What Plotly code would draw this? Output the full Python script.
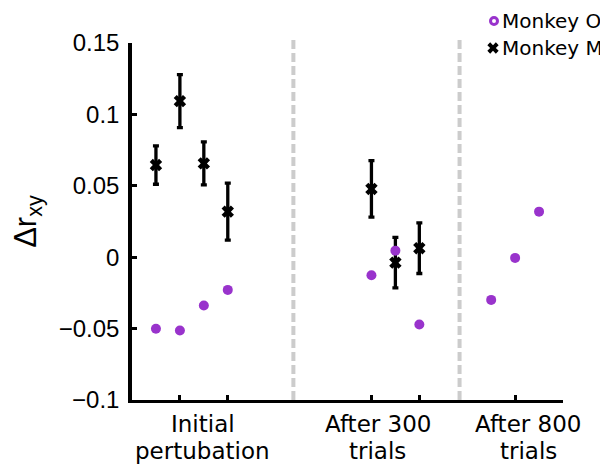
import plotly.graph_objects as go

# ---- data ----
x_monkey_o = [0, 1, 2, 3, 9, 10, 11, 14, 15, 16]
y_monkey_o = [-0.0501, -0.0513, -0.0338, -0.0229, -0.0126, 0.0046, -0.0471, -0.0299, -0.0005, 0.0319]

x_monkey_m = [0, 1, 2, 3, 9, 10, 11]
y_monkey_m = [0.0645, 0.1093, 0.0657, 0.0319, 0.0478, -0.0038, 0.0063]
err_monkey_m = [0.0134, 0.0185, 0.0150, 0.0200, 0.0198, 0.0177, 0.0177]

series_names = ["Monkey O", "Monkey M"]
group_labels = [["Initial", "pertubation"], ["After 300", "trials"], ["After 800", "trials"]]
group_label_x = [1.96, 9.27, 15.54]
x_tick_vals = [1, 3, 9, 11, 15]
y_tick_vals = [-0.1, -0.05, 0, 0.05, 0.1, 0.15]
separators_x = [5.74, 12.68]

PURPLE = "#9933CC"

# plot area in screen pixels (page has an 8px body margin)
PL, PR, PT, PB = 132, 563, 43, 400


def px_x(p):
    return (p - PL) / (PR - PL)


def px_y(p):
    return (PB - p) / (PB - PT)


fig = go.Figure()

# Monkey M (drawn first, O on top)
fig.add_trace(go.Scatter(
    x=x_monkey_m, y=y_monkey_m, mode="markers", showlegend=False, name=series_names[1],
    marker=dict(symbol="x", size=11, color="black", line=dict(width=0)),
    error_y=dict(type="data", array=err_monkey_m, visible=True,
                 color="black", thickness=3.3, width=3),
))
fig.add_trace(go.Scatter(
    x=x_monkey_o, y=y_monkey_o, mode="markers", showlegend=False, name=series_names[0],
    marker=dict(symbol="circle", size=10, color=PURPLE, line=dict(width=0)),
))

# compact legend: key symbols + text labels
legend_rows_y = [px_y(21), px_y(48)]
fig.add_trace(go.Scatter(
    x=[px_x(493)], y=[legend_rows_y[1]], xaxis="x2", yaxis="y2", mode="markers",
    showlegend=False, cliponaxis=False, hoverinfo="skip",
    marker=dict(symbol="x", size=10, color="black", line=dict(width=0)),
))

shapes = []
for sx in separators_x:
    shapes.append(dict(type="line", xref="x", yref="paper", x0=sx, x1=sx, y0=0, y1=px_y(37),
                       line=dict(color="#CCCCCC", width=4, dash="9px,4px"), layer="below"))
shapes.append(dict(type="circle", xref="paper", yref="paper",
                   xsizemode="pixel", ysizemode="pixel",
                   xanchor=px_x(494), yanchor=legend_rows_y[0],
                   x0=-3.5, x1=3.5, y0=-3.5, y1=3.5,
                   line=dict(color=PURPLE, width=3), fillcolor="white"))

annotations = []
for (l1, l2), gx in zip(group_labels, group_label_x):
    annotations.append(dict(x=gx, y=px_y(424), xref="x", yref="paper", text=l1,
                            showarrow=False, xanchor="center", yanchor="middle",
                            font=dict(family="DejaVu Sans", size=23, color="black")))
    annotations.append(dict(x=gx, y=px_y(451), xref="x", yref="paper", text=l2,
                            showarrow=False, xanchor="center", yanchor="middle",
                            font=dict(family="DejaVu Sans", size=23, color="black")))
for name, ry in zip(series_names, legend_rows_y):
    annotations.append(dict(x=px_x(500), y=ry, xref="paper", yref="paper", text=name,
                            showarrow=False, xanchor="left", yanchor="middle",
                            font=dict(family="DejaVu Sans", size=20, color="black")))

fig.update_layout(
    width=608, height=464,
    margin=dict(l=PL - 8, r=608 + 8 - PR, t=PT - 8, b=464 + 8 - PB, autoexpand=False),
    plot_bgcolor="white", paper_bgcolor="white",
    shapes=shapes, annotations=annotations, showlegend=False,
    xaxis=dict(range=[-1, 17], showgrid=False, zeroline=False, automargin=False,
               showline=True, linecolor="black", linewidth=3,
               ticks="inside", ticklen=5, tickwidth=3, tickcolor="black",
               tickvals=x_tick_vals, showticklabels=False),
    yaxis=dict(range=[-0.1, 0.15], showgrid=False, zeroline=False, automargin=False,
               showline=True, linecolor="black", linewidth=3.5,
               ticks="inside", ticklen=5, tickwidth=3, tickcolor="black",
               tickvals=y_tick_vals, ticklabelstandoff=4,
               tickfont=dict(family="Arial, Liberation Sans", size=24, color="black"),
               title=dict(text="Δr<sub>xy</sub>", standoff=28,
                          font=dict(family="Arial, Liberation Sans", size=31, color="black"))),
    xaxis2=dict(overlaying="x", range=[0, 1], visible=False, fixedrange=True),
    yaxis2=dict(overlaying="y", range=[0, 1], visible=False, fixedrange=True),
)

fig.write_html("out.html")
